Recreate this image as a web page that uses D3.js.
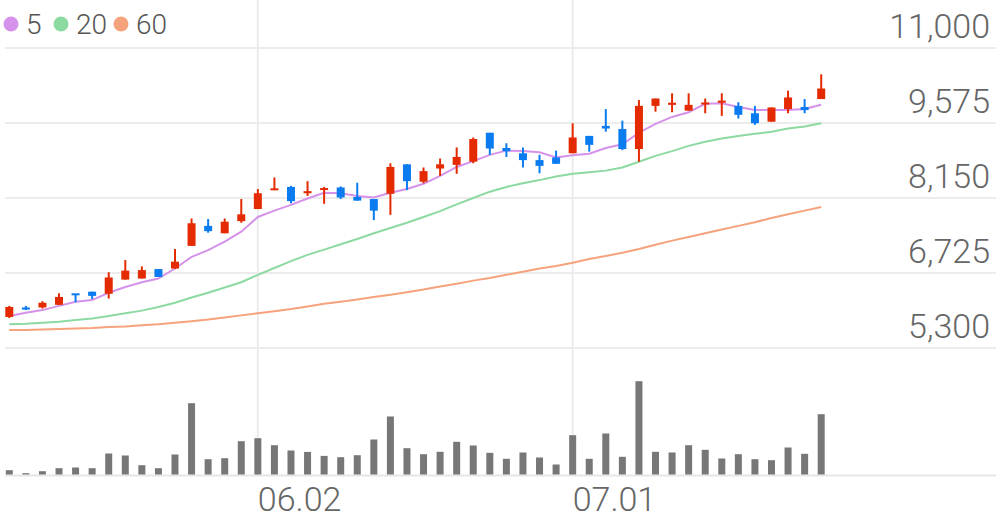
<!DOCTYPE html>
<html><head><meta charset="utf-8">
<script src="https://cdn.jsdelivr.net/npm/d3@7"></script>
<style>
html,body{margin:0;padding:0;background:#fff;}
svg{display:block;font-family:Roboto,"Noto Sans",sans-serif;}
</style></head>
<body><svg id="c" width="996" height="519"></svg>
<script>
const dates = ["05.12","05.13","05.14","05.15","05.16","05.19","05.20","05.21","05.22","05.23",
"05.26","05.27","05.28","05.29","05.30","06.02","06.04","06.05","06.09","06.10",
"06.11","06.12","06.13","06.16","06.17","06.18","06.19","06.20","06.23","06.24",
"06.25","06.26","06.27","06.30","07.01","07.02","07.03","07.04","07.07","07.08",
"07.09","07.10","07.11","07.14","07.15","07.16","07.17","07.18","07.21","07.22"];
const open  = [5890,6070,6070,6120,6330,6370,6330,6600,6620,6800,6810,7240,7620,7480,7710,7940,8300,8360,8240,8310,
8350,8170,8130,8230,8790,8460,8710,8780,8840,9390,9100,9000,8870,8920,9000,9330,9520,9460,9080,9900,
9920,9810,9930,9960,9900,9760,9600,9840,9880,10030];
const high  = [6100,6100,6190,6340,6330,6370,6740,6970,6850,6800,7180,7760,7750,7760,8130,8320,8540,8380,8470,8360,
8370,8440,8130,8810,8790,8730,8900,9110,9300,9390,9190,9110,8970,9050,9570,9330,9840,9620,10010,10040,
10140,10140,10040,10140,9970,9900,9870,10190,10030,10500];
const low   = [5870,6020,6050,6120,6170,6230,6240,6600,6620,6650,6800,7240,7490,7480,7680,7940,8300,8050,8190,8040,
8130,8100,7730,7830,8300,8430,8570,8610,8810,8970,8930,8730,8620,8800,9000,9030,9410,9060,8840,9790,
9780,9810,9760,9710,9660,9540,9600,9760,9760,10030];
const close = [6080,6030,6160,6270,6310,6290,6640,6770,6780,6650,6940,7670,7520,7700,7840,8240,8330,8090,8280,8330,
8160,8100,7910,8740,8470,8660,8790,8930,9270,9090,9040,8870,8760,8800,9300,9160,9470,9080,9900,10040,
9960,9920,9960,10000,9730,9570,9870,10060,9820,10230];
const ma5  = [5910,5970,6020,6100,6180,6210,6350,6460,6550,6620,6810,7030,7160,7320,7510,7790,7910,8020,8140,8250,
8240,8190,8160,8250,8320,8420,8570,8740,8850,8970,9050,9045,9020,8920,8960,8990,9100,9170,9390,9560,
9690,9780,9940,9950,9880,9820,9820,9820,9840,9920];
const ma20 = [5750,5760,5780,5800,5830,5860,5910,5960,6010,6080,6160,6260,6350,6450,6550,6690,6820,6950,7070,7170,
7270,7370,7480,7580,7680,7790,7900,8030,8150,8270,8360,8430,8490,8560,8610,8640,8670,8730,8840,8950,
9040,9140,9220,9280,9330,9370,9410,9470,9510,9570];
const ma60 = [5640,5640,5650,5660,5670,5680,5700,5710,5730,5750,5780,5810,5840,5880,5920,5960,6000,6040,6090,6140,
6180,6220,6270,6310,6360,6410,6470,6520,6580,6630,6690,6750,6810,6860,6920,6990,7050,7110,7180,7260,
7340,7410,7480,7550,7620,7690,7770,7840,7910,7980];
const volume = [43000,13000,33000,63000,70000,63000,210000,190000,93000,63000,200000,713000,153000,163000,333000,363000,293000,240000,226000,186000,
173000,193000,350000,580000,263000,203000,227000,327000,290000,217000,157000,220000,170000,100000,393000,157000,410000,177000,933000,227000,
220000,293000,247000,160000,203000,153000,143000,270000,207000,603000];
const priceTicks = [5300,6725,8150,9575,11000];
const dateTicks = ["06.02","07.01"];
const maNames = ["5","20","60"];

const W = 996, H = 519;
const svg = d3.select("#c");
const x = d3.scalePoint().domain(dates).range([9.3, 821.2]);
const y = d3.scaleLinear().domain([5300, 11000]).range([348, 48]);
const yv = d3.scaleLinear().domain([0, 1000000]).range([474.5, 374.5]);
const gridColor = "#ececec";
const red = "#e42a00", blue = "#0b7cf0";
const maColors = ["#d592ea", "#8cdaa2", "#f6a27c"];

// horizontal grid
const gy = svg.append("g");
gy.selectAll("line").data(priceTicks).join("line")
  .attr("x1", 5).attr("x2", W).attr("y1", d => y(d)).attr("y2", d => y(d))
  .attr("stroke", gridColor).attr("stroke-width", 2);
gy.selectAll("text").data(priceTicks).join("text")
  .attr("x", 990).attr("y", d => y(d) - 10).attr("text-anchor", "end")
  .attr("font-size", 34).attr("font-weight", 300).attr("fill", "#666")
  .text(d => d3.format(",")(d));

// vertical grid + x labels
const gx = svg.append("g");
gx.selectAll("line").data(dateTicks).join("line")
  .attr("x1", d => x(d)).attr("x2", d => x(d)).attr("y1", 0).attr("y2", 475)
  .attr("stroke", gridColor).attr("stroke-width", 2);
gx.selectAll("text").data(dateTicks).join("text")
  .attr("x", d => x(d)).attr("y", 511).attr("text-anchor", "start")
  .attr("font-size", 34).attr("font-weight", 300).attr("fill", "#666")
  .text(d => d);

// volume baseline
svg.append("line").attr("x1", 5).attr("x2", W).attr("y1", yv(0) + 1).attr("y2", yv(0) + 1)
  .attr("stroke", "#e6e6e6").attr("stroke-width", 2);

// volume bars
svg.append("g").selectAll("rect").data(dates).join("rect")
  .attr("x", d => x(d) - 3.5).attr("width", 7)
  .attr("y", (d, i) => yv(volume[i])).attr("height", (d, i) => yv(0) - yv(volume[i]))
  .attr("fill", "#777");

// MA lines
[ma60, ma20, ma5].forEach((arr, k) => {
  const col = maColors[2 - k];
  const line = d3.line().x((d, i) => x(dates[i])).y(d => y(d));
  svg.append("path").attr("d", line(arr)).attr("fill", "none")
    .attr("stroke", col).attr("stroke-width", 2);
});

// candles
const cg = svg.append("g");
dates.forEach((d, i) => {
  const up = close[i] >= open[i];
  const col = up ? red : blue;
  const cx = x(d);
  cg.append("line").attr("x1", cx).attr("x2", cx)
    .attr("y1", y(high[i])).attr("y2", y(low[i]))
    .attr("stroke", col).attr("stroke-width", 2);
  const top = y(Math.max(open[i], close[i]));
  const bot = y(Math.min(open[i], close[i]));
  const h = Math.max(2, bot - top);
  cg.append("rect").attr("x", cx - 4).attr("width", 8)
    .attr("y", h === 2 ? (top + bot) / 2 - 1 : top).attr("height", h)
    .attr("fill", col);
});

// legend
const lg = svg.append("g");
const lx = [11, 61, 121], tx = [26, 76, 136];
maNames.forEach((n, k) => {
  lg.append("circle").attr("cx", lx[k]).attr("cy", 24).attr("r", 7.5).attr("fill", maColors[k]);
  lg.append("text").attr("x", tx[k]).attr("y", 34).attr("font-size", 28)
    .attr("font-weight", 300).attr("fill", "#555").text(n);
});
</script></body></html>
